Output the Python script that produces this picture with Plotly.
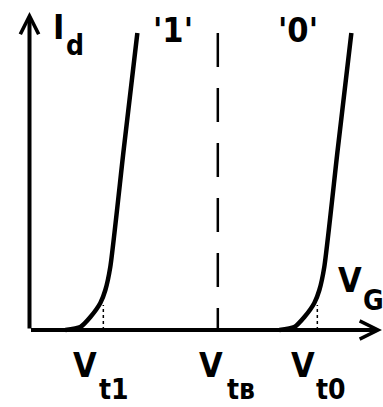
import plotly.graph_objects as go

# Threshold voltages of the two cell states and the read reference (V)
VT1 = 0.69
VT0 = 2.69
VTB = 1.76

# Transfer curve shape relative to the threshold: gate overdrive (V) and drain current (a.u.)
dV = [-0.355, -0.215, -0.121, -0.028, 0.019, 0.065, 0.19, 0.318]
ID = [0.0, 0.03, 0.13, 0.27, 0.40, 0.63, 1.80, 2.97]

STATE_LABELS = ["'1'", "'0'"]

# Axis extents (V, a.u.)
X_RANGE = [-0.2757, 3.3037]
Y_RANGE = [-0.77, 3.30]
X_AXIS_END = 3.294
Y_AXIS_END = 3.18
TICK_HEIGHT = 0.25

FONT = "Liberation Sans Narrow, DejaVu Sans Condensed, Arial Narrow, sans-serif"
BLACK = "#000000"

fig = go.Figure()

for vt in (VT1, VT0):
    # subthreshold tail blending into the linear region
    fig.add_trace(go.Scatter(
        x=[vt + d for d in dV], y=ID, mode="lines",
        line=dict(color=BLACK, width=4.5, shape="spline", smoothing=0.6),
        hoverinfo="skip", showlegend=False))
    # extrapolated threshold marker
    fig.add_trace(go.Scatter(
        x=[vt, vt], y=[0, TICK_HEIGHT], mode="lines",
        line=dict(color=BLACK, width=1.5, dash="dot"),
        hoverinfo="skip", showlegend=False))

# reference read voltage between the two states
fig.add_trace(go.Scatter(
    x=[VTB, VTB], y=[ID[-1], 0], mode="lines",
    line=dict(color=BLACK, width=2.5, dash="34px,21px"),
    hoverinfo="skip", showlegend=False))

annotations = []

# axes drawn as arrows from the origin
for ax_x, ax_y in ((0, Y_AXIS_END), (X_AXIS_END, 0)):
    annotations.append(dict(
        x=ax_x, y=ax_y, ax=0, ay=0, xref="x", yref="y", axref="x", ayref="y",
        text="", showarrow=True, arrowhead=5, arrowsize=0.9, arrowwidth=4,
        arrowcolor=BLACK))


def label(x, y, text, size):
    annotations.append(dict(
        x=x, y=y, xref="x", yref="y", text=text, showarrow=False,
        xanchor="center", yanchor="middle",
        font=dict(family=FONT, size=size, color=BLACK, weight="bold")))


MAIN = 34
SUB = 28

# axis titles
label(0.271, 3.03, "I", MAIN)
label(0.421, 2.85, "d", SUB)
label(2.995, 0.50, "V", MAIN)
label(3.215, 0.30, "G", SUB)

# state labels above each curve
label(1.341, 3.00, STATE_LABELS[0], MAIN)
label(2.509, 3.00, STATE_LABELS[1], MAIN)

# threshold labels under the axis: (threshold, subscript, V offset, subscript offset)
for vt, sub, v_off, s_off in ((VT1, "t1", -0.17, 0.10),
                              (VTB, "tв", -0.06, 0.215),
                              (VT0, "t0", -0.135, 0.13)):
    label(vt + v_off, -0.35, "V", MAIN)
    label(vt + s_off, -0.59, sub, SUB)

fig.update_layout(
    width=383, height=407,
    margin=dict(l=0, r=0, t=0, b=0),
    paper_bgcolor="white", plot_bgcolor="white",
    xaxis=dict(range=X_RANGE, visible=False, fixedrange=True),
    yaxis=dict(range=Y_RANGE, visible=False, fixedrange=True),
    annotations=annotations,
    showlegend=False,
)

fig.write_html("out.html", config={"displayModeBar": False})
